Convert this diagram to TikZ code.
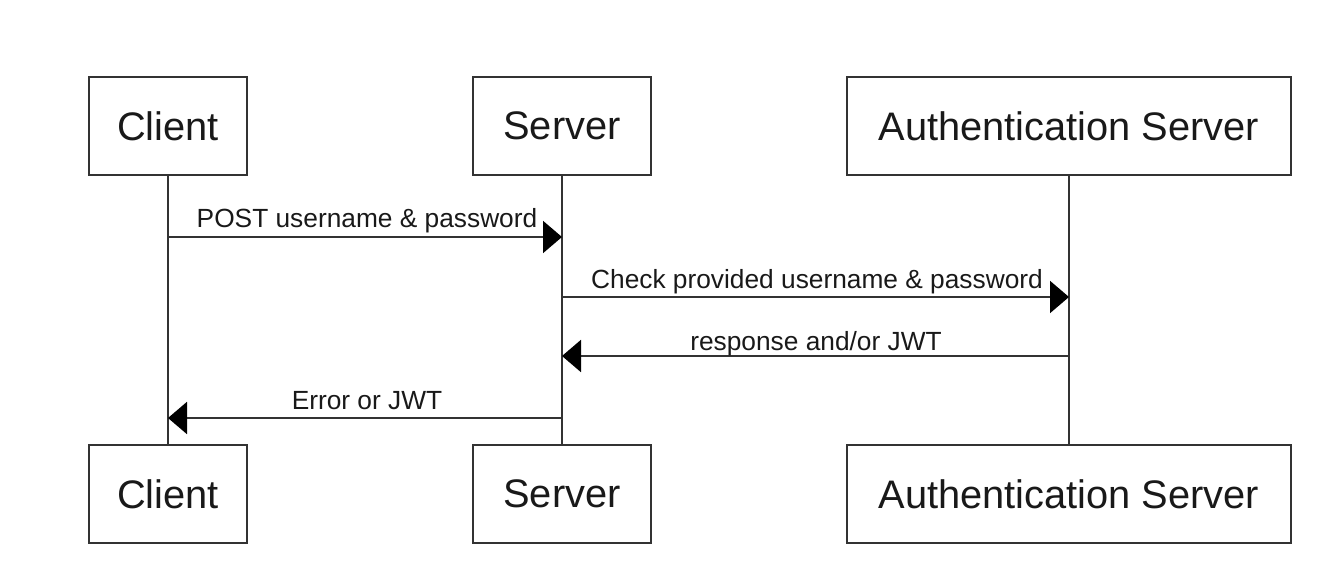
\documentclass[tikz,border=0pt]{standalone}
\usepackage{fontspec}
\setmainfont{Liberation Sans}
\usetikzlibrary{arrows.meta}
\definecolor{linec}{HTML}{333333}
\tikzset{
  actor/.style={draw=linec, line width=2pt, fill=white, inner sep=0pt, font=\fontsize{39.8}{47}\selectfont, text=black!90},
  life/.style={draw=linec, line width=2pt},
  msg/.style={draw=linec, line width=2pt, -{Triangle[length=19pt,width=32pt,color=black]}},
  lbl/.style={font=\fontsize{26.3}{31}\selectfont, text=black!90, anchor=base, inner sep=0pt},
}
\begin{document}
\begin{tikzpicture}[x=1pt,y=-1pt]
\useasboundingbox (0,0) rectangle (1318,564);
% top actors
\node[actor, minimum width=158pt, minimum height=98pt] (ct) at (168,126) {Client};
\node[actor, minimum width=178pt, minimum height=98pt] (st) at (562,126) {Server};
\node[actor, minimum width=444pt, minimum height=98pt] (at) at (1069,126) {Authentication Server};
% bottom actors
\node[actor, minimum width=158pt, minimum height=98pt] (cb) at (168,494) {Client};
\node[actor, minimum width=178pt, minimum height=98pt] (sb) at (562,494) {Server};
\node[actor, minimum width=444pt, minimum height=98pt] (ab) at (1069,494) {Authentication Server};
% lifelines
\draw[life] (ct.south) -- (cb.north);
\draw[life] (st.south) -- (sb.north);
\draw[life] (at.south) -- (ab.north);
% message points
\coordinate (c1) at (168,237); \coordinate (s1) at (562,237);
\coordinate (s2) at (562,297); \coordinate (a2) at (1069,297);
\coordinate (a3) at (1069,356); \coordinate (s3) at (562,356);
\coordinate (s4) at (562,418); \coordinate (c4) at (168,418);
\draw[msg] (c1) -- (s1);
\draw[msg] (s2) -- (a2);
\draw[msg] (a3) -- (s3);
\draw[msg] (s4) -- (c4);
\node[lbl] (l1) at (367,228) {POST username \& password};
\node[lbl] (l2) at (817,289) {Check provided username \& password};
\node[lbl] (l3) at (816,350) {response and/or JWT};
\node[lbl] (l4) at (367,409) {Error or JWT};
\end{tikzpicture}
\end{document}
